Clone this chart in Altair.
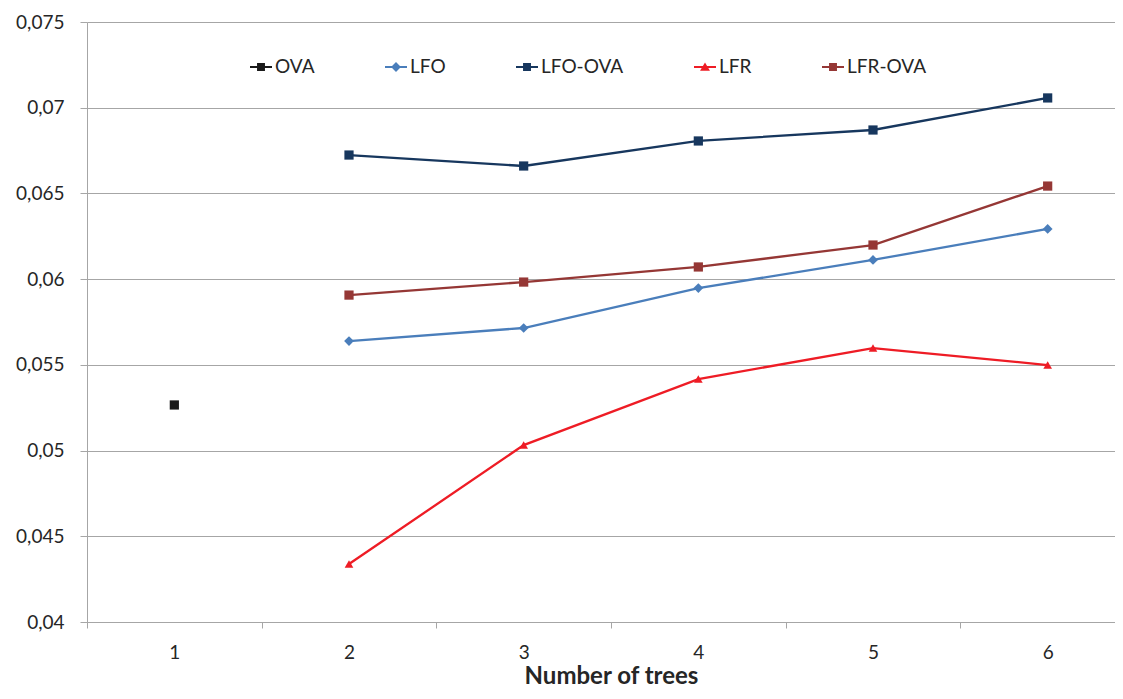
import altair as alt
import pandas as pd

trees = [1, 2, 3, 4, 5, 6]
series_names = ["OVA", "LFO", "LFO-OVA", "LFR", "LFR-OVA"]
ova = [0.05266, None, None, None, None, None]
lfo = [None, 0.05639, 0.05715, 0.05948, 0.06112, 0.06293]
lfo_ova = [None, 0.06724, 0.06660, 0.06806, 0.06870, 0.07057]
lfr = [None, 0.04338, 0.05032, 0.05417, 0.05598, 0.05499]
lfr_ova = [None, 0.05907, 0.05983, 0.06071, 0.06199, 0.06543]
y_ticks = [0.04, 0.045, 0.05, 0.055, 0.06, 0.065, 0.07, 0.075]

colors = ["#1a1a1a", "#4a7ebb", "#17375e", "#ee1c25", "#953735"]

rows = []
for name, vals in zip(series_names, [ova, lfo, lfo_ova, lfr, lfr_ova]):
    for t, v in zip(trees, vals):
        if v is not None:
            rows.append({"trees": str(t), "series": name, "value": v})
df = pd.DataFrame(rows)

LINE = "M-1,-0.1H1V0.1H-1Z"
SQ = "M-0.36,-0.36H0.36V0.36H-0.36Z"
DI = "M0,-0.45L0.45,0L0,0.45L-0.45,0Z"
TR = "M0,-0.42L0.45,0.34H-0.45Z"
legend_shapes = [LINE + " " + SQ, LINE + " " + DI, LINE + " " + SQ, LINE + " " + TR, LINE + " " + SQ]

FONT = "Lato"
TXT = "#262626"
PLOT_W = 1028
BAND_RANGE = 1048

x_enc = alt.X(
    "trees:O",
    sort=[str(t) for t in trees],
    scale=alt.Scale(type="band", domain=[str(t) for t in trees], paddingInner=0, paddingOuter=0,
                    range=[0, BAND_RANGE]),
    axis=alt.Axis(
        title="Number of trees",
        labelAngle=0,
        tickBand="extent",
        tickSize=6,
        tickColor="#a6a6a6",
        domainColor="#a6a6a6",
        labelPadding=15,
        labelFontSize=19,
        labelColor=TXT,
        titleFontSize=24,
        titleFontWeight="bold",
        titleColor=TXT,
        titlePadding=2,
        titleX=BAND_RANGE / 2,
        grid=False,
    ),
)
y_enc = alt.Y(
    "value:Q",
    scale=alt.Scale(domain=[0.04, 0.075], nice=False, zero=False),
    axis=alt.Axis(
        title=None,
        values=y_ticks,
        labelExpr="replace(format(datum.value, '.3~f'), '.', ',')",
        tickSize=7,
        tickColor="#a6a6a6",
        domainColor="#a6a6a6",
        gridColor="#a6a6a6",
        labelPadding=16,
        labelFontSize=19,
        labelColor=TXT,
    ),
)

legend = alt.Legend(
    title=None,
    orient="none",
    legendX=163,
    legendY=34,
    direction="horizontal",
    columns=5,
    columnPadding=70,
    symbolSize=484,
    symbolStrokeWidth=0,
    symbolOpacity=1,
    labelFontSize=19,
    labelFont=FONT,
    labelColor=TXT,
    labelOffset=3,
)

color_scale = alt.Scale(domain=series_names, range=colors)
color_enc = alt.Color("series:N", scale=color_scale, legend=legend)
shape_enc = alt.Shape("series:N", scale=alt.Scale(domain=series_names, range=legend_shapes), legend=legend)

base = alt.Chart(df)

lines = base.mark_line(strokeWidth=2.3).encode(x=x_enc, y=y_enc, color=color_enc)

squares = base.transform_filter(
    alt.FieldOneOfPredicate(field="series", oneOf=["OVA", "LFO-OVA", "LFR-OVA"])
).mark_point(filled=True, opacity=1, size=85, shape="square").encode(x=x_enc, y=y_enc, color=color_enc)

diamonds = base.transform_filter(
    alt.FieldEqualPredicate(field="series", equal="LFO")
).mark_point(filled=True, opacity=1, size=95, shape="diamond").encode(x=x_enc, y=y_enc, color=color_enc)

triangles = base.transform_filter(
    alt.FieldEqualPredicate(field="series", equal="LFR")
).mark_point(filled=True, opacity=1, size=75, shape="triangle-up").encode(x=x_enc, y=y_enc, color=color_enc)

legend_layer = base.transform_filter("false").mark_point(filled=True, opacity=1).encode(
    x=x_enc, y=y_enc, color=color_enc, shape=shape_enc
)

chart = (
    alt.layer(lines, squares, diamonds, triangles, legend_layer)
    .properties(
        width=PLOT_W,
        height=600,
        autosize=alt.AutoSizeParams(type="none"),
        padding={"left": 79, "top": 14, "right": 0, "bottom": 69},
    )
    .configure(font=FONT)
    .configure_view(stroke=None)
    .configure_axis(labelFont=FONT, titleFont=FONT)
)

chart.save("out.html", embed_options={"renderer": "svg", "actions": False})
